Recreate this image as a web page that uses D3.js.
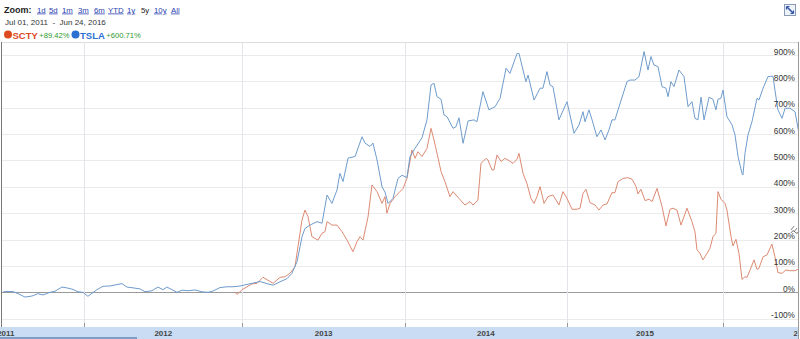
<!DOCTYPE html>
<html><head><meta charset="utf-8">
<script src="https://cdn.jsdelivr.net/npm/d3@7"></script>
<style>
html,body{margin:0;padding:0;background:#fff;}
svg{display:block;font-family:"Liberation Sans",Arial,sans-serif;}
</style></head>
<body>
<svg id="c" width="800" height="339"></svg>
<script>
// ---- data (time as decimal year, value as % change) ----
const zoomLinks = ["1d","5d","1m","3m","6m","YTD","1y","5y","10y","All"];
const selectedZoom = "5y";
const dateRangeText = "Jul 01, 2011  -  Jun 24, 2016";
const seriesNames = ["SCTY","TSLA"];
const seriesChange = ["+89.42%","+600.71%"];
const yTicks = [-100,0,100,200,300,400,500,600,700,800,900];
const years = [2011,2012,2013,2014,2015,2016];

const tslaT = [2011.498,2011.511,2011.560,2011.591,2011.634,2011.677,2011.714,2011.745,2011.788,2011.819,2011.862,2011.899,2011.930,2011.961,2011.992,
2012.023,2012.080,2012.118,2012.163,2012.194,2012.239,2012.270,2012.308,2012.353,2012.384,2012.428,2012.466,2012.498,2012.523,2012.555,2012.587,2012.618,2012.656,2012.701,2012.745,2012.783,2012.815,2012.859,2012.903,2012.941,2012.985,
2013.029,2013.066,2013.109,2013.152,2013.189,2013.232,2013.275,2013.305,2013.336,2013.355,2013.367,2013.385,2013.416,2013.459,2013.490,2013.521,2013.551,2013.582,2013.600,2013.619,2013.650,2013.693,2013.736,2013.754,2013.785,2013.803,2013.828,2013.859,2013.877,2013.896,2013.926,2013.957,2013.982,
2014.012,2014.031,2014.062,2014.105,2014.136,2014.161,2014.179,2014.198,2014.223,2014.241,2014.260,2014.297,2014.315,2014.334,2014.359,2014.390,2014.427,2014.445,2014.482,2014.519,2014.557,2014.588,2014.625,2014.649,2014.693,2014.705,2014.730,2014.748,2014.761,2014.798,2014.835,2014.853,2014.878,2014.897,2014.915,2014.952,
2015.002,2015.047,2015.079,2015.104,2015.117,2015.142,2015.162,2015.193,2015.219,2015.245,2015.270,2015.289,2015.308,2015.328,2015.385,2015.404,2015.436,2015.462,2015.494,2015.519,2015.538,2015.557,2015.583,2015.609,2015.634,2015.647,2015.666,2015.685,2015.717,2015.749,2015.775,2015.800,2015.819,2015.838,2015.858,2015.877,2015.909,2015.934,2015.953,2015.966,2015.985,2015.998,
2016.023,2016.055,2016.074,2016.093,2016.118,2016.124,2016.137,2016.156,2016.181,2016.213,2016.225,2016.251,2016.282,2016.314,2016.326,2016.345,2016.371,2016.390,2016.421,2016.453,2016.478];
const tslaV = [1,3,3,-5,-18,-14,-5,-10,0,4,20,16,11,2,0,
-15,10,23,24,28,33,20,17,13,2,6,20,10,20,10,0,8,6,9,2,0,5,18,21,21,24,
30,35,41,33,27,40,52,72,116,173,211,242,255,268,262,369,337,388,451,420,509,515,590,566,553,566,502,400,380,337,356,432,444,
435,515,546,586,654,786,793,742,732,673,666,622,628,662,565,650,654,647,761,692,704,736,850,830,906,906,843,799,824,729,774,774,837,786,780,654,
723,603,635,685,647,692,654,590,616,578,616,654,654,692,799,805,805,818,913,843,894,862,856,780,774,742,799,780,843,818,704,723,660,654,740,654,740,732,692,732,736,767,
666,635,597,515,451,445,527,597,647,736,729,774,818,820,767,692,660,698,698,685,601];

const sctyT = [2012.953,2012.966,2012.972,2012.998,
2013.029,2013.060,2013.090,2013.127,2013.158,2013.189,2013.232,2013.262,2013.293,2013.324,2013.342,2013.367,2013.385,2013.404,2013.428,2013.465,2013.490,2013.508,2013.521,2013.551,2013.582,2013.613,2013.644,2013.680,2013.705,2013.723,2013.742,2013.773,2013.797,2013.828,2013.859,2013.877,2013.889,2013.908,2013.939,2013.963,2013.988,
2014.012,2014.043,2014.062,2014.080,2014.105,2014.136,2014.161,2014.179,2014.198,2014.223,2014.247,2014.278,2014.297,2014.334,2014.371,2014.402,2014.421,2014.451,2014.470,2014.501,2014.513,2014.538,2014.550,2014.569,2014.594,2014.618,2014.637,2014.668,2014.693,2014.705,2014.730,2014.754,2014.779,2014.798,2014.816,2014.835,2014.860,2014.884,2014.915,2014.934,2014.952,2014.977,
2015.002,2015.034,2015.066,2015.085,2015.104,2015.123,2015.149,2015.181,2015.206,2015.232,2015.257,2015.289,2015.308,2015.328,2015.360,2015.391,2015.417,2015.443,2015.455,2015.474,2015.500,2015.526,2015.545,2015.577,2015.609,2015.634,2015.660,2015.679,2015.704,2015.730,2015.768,2015.800,2015.819,2015.832,2015.851,2015.870,2015.896,2015.915,2015.934,2015.953,2015.966,2015.985,
2016.011,2016.023,2016.049,2016.061,2016.080,2016.099,2016.118,2016.137,2016.150,2016.169,2016.194,2016.213,2016.225,2016.251,2016.276,2016.307,2016.326,2016.345,2016.371,2016.396,2016.421,2016.453,2016.478];
const sctyV = [0,-8,-6,10,
21,32,34,57,46,34,57,59,72,97,173,274,312,287,211,198,224,230,268,255,255,230,198,154,192,211,198,287,407,382,337,363,300,337,363,378,394,
432,540,508,533,515,546,622,578,527,458,420,363,382,356,331,344,331,350,489,508,502,464,464,521,496,508,502,489,505,527,451,413,356,337,363,401,337,363,369,350,331,382,
356,315,315,319,375,391,340,331,312,331,335,378,378,420,432,435,429,401,373,391,348,353,344,394,325,252,315,319,312,255,319,268,230,161,148,123,148,167,211,224,382,353,
337,312,211,176,201,148,49,59,57,85,123,87,91,135,142,183,135,75,72,85,82,82,89];

// ---- helpers ----
function yd(t){ const y=Math.floor(t); const s=new Date(y,0,1), e=new Date(y+1,0,1); return new Date(+s+(t-y)*(e-s)); }
const W=800, H=339;
const plotTop=42, plotLeft=1.5, plotRight=798.5, axisBandTop=327;

// x: trading-day style axis (year spans are not all equal width)
const x = d3.scaleTime()
  .domain([yd(2011.498), new Date(2012,0,1), new Date(2013,0,1), new Date(2014,0,1), new Date(2015,0,1), new Date(2016,0,1), yd(2016.478)])
  .range([3, 84.3, 242.3, 405, 566.7, 723.3, 799]);
const y = d3.scaleLinear().domain([-100,900]).range([318.7,55]);

const svg = d3.select("#c");
const defs = svg.append("defs");
defs.append("clipPath").attr("id","plotclip").append("rect")
  .attr("x",plotLeft).attr("y",plotTop).attr("width",plotRight-plotLeft).attr("height",axisBandTop-plotTop);
defs.append("clipPath").attr("id","bandclip").append("rect")
  .attr("x",0).attr("y",axisBandTop).attr("width",797.5).attr("height",H-axisBandTop);

// ---- header ----
const hdr = svg.append("g");
hdr.append("text").attr("x",4).attr("y",12.5).attr("font-size",9).attr("font-weight","bold").attr("fill","#222").text("Zoom:");
const linkX = [37,49,62,78,94,108,127,141,154,171];
zoomLinks.forEach((z,i)=>{
  const sel = z===selectedZoom;
  const t = hdr.append("text").attr("x",linkX[i]).attr("y",12.5).attr("font-size",7.8)
    .attr("fill", sel? "#222":"#2a3fb0").text(z);
  if(!sel) t.attr("text-decoration","underline");
});
hdr.append("text").attr("x",5).attr("y",24.5).attr("font-size",8).attr("fill","#333").attr("xml:space","preserve").text(dateRangeText);

const legCol = ["#dd4a1f","#2a6fd1"];
const dotX = [8,75.5];
seriesNames.forEach((n,i)=>{
  hdr.append("circle").attr("cx",dotX[i]).attr("cy",34.5).attr("r",4).attr("fill",legCol[i]);
  const t = hdr.append("text").attr("x",dotX[i]+4.5).attr("y",38.5).attr("font-size",9.5).attr("font-weight","bold").attr("fill",legCol[i]).text(n);
  const w = t.node().getComputedTextLength();
  hdr.append("text").attr("x",dotX[i]+4.5+w+1.5).attr("y",38).attr("font-size",7.6).attr("fill","#2f9a2f").text(seriesChange[i]);
});

// top-right expand icon
const ic = svg.append("g").attr("transform","translate(784,4)");
ic.append("rect").attr("x",0.5).attr("y",0.5).attr("width",11).attr("height",11).attr("fill","#eef2fa").attr("stroke","#8a9bb8");
ic.append("path").attr("d","M3,3 L9,9").attr("stroke","#3355aa").attr("stroke-width",1.6);
ic.append("path").attr("d","M2.5,2.5 h3 M2.5,2.5 v3 M9.5,9.5 h-3 M9.5,9.5 v-3").attr("stroke","#3355aa").attr("stroke-width",1.2);

// ---- grid ----
const grid = svg.append("g");
grid.append("line").attr("x1",plotLeft).attr("x2",plotRight).attr("y1",plotTop+0.5).attr("y2",plotTop+0.5).attr("stroke","#dcdcdc");
yTicks.forEach(v=>{
  grid.append("line").attr("x1",plotLeft).attr("x2",plotRight)
    .attr("y1",Math.round(y(v))+0.5).attr("y2",Math.round(y(v))+0.5)
    .attr("stroke", v===0? "#9a9a9a":"#ebebeb").attr("stroke-width",1);
});
years.slice(1).forEach(yr=>{
  const xx = Math.round(x(new Date(yr,0,1)))+0.5;
  grid.append("line").attr("x1",xx).attr("x2",xx).attr("y1",plotTop).attr("y2",axisBandTop-4).attr("stroke","#e4e4ea");
  grid.append("line").attr("x1",xx).attr("x2",xx).attr("y1",axisBandTop-4).attr("y2",axisBandTop).attr("stroke","#999");
});

// ---- lines ----
const line = d3.line().x(d=>x(yd(d[0]))).y(d=>y(d[1]));
const lg = svg.append("g").attr("clip-path","url(#plotclip)");
lg.append("path").datum(sctyT.map((t,i)=>[t,sctyV[i]])).attr("d",line)
  .attr("fill","none").attr("stroke","#dc8a72").attr("stroke-width",1);
lg.append("path").datum(tslaT.map((t,i)=>[t,tslaV[i]])).attr("d",line)
  .attr("fill","none").attr("stroke","#6e9bcc").attr("stroke-width",1);

// ---- y labels ----
yTicks.forEach(v=>{
  svg.append("text").attr("x",795).attr("y",y(v)-0.5).attr("text-anchor","end")
    .attr("font-size",8.3).attr("fill","#333").text(v+"%");
});

// small drag handle glyph at right
svg.append("path").attr("d","M791,233 q2,-4 4,-1 q2,3 4,-1").attr("fill","none").attr("stroke","#555").attr("stroke-width",0.8);
svg.append("path").attr("d","M791,230 l3,-4 M794,232 l3,-4").attr("fill","none").attr("stroke","#555").attr("stroke-width",0.7);

// ---- borders ----
svg.append("line").attr("x1",1.5).attr("x2",1.5).attr("y1",plotTop).attr("y2",axisBandTop).attr("stroke","#777");
svg.append("line").attr("x1",798.5).attr("x2",798.5).attr("y1",plotTop).attr("y2",H).attr("stroke","#999");

// ---- bottom axis band ----
const band = svg.append("g");
band.append("rect").attr("x",0).attr("y",axisBandTop).attr("width",798).attr("height",H-axisBandTop).attr("fill","#c9dcf3");
band.append("rect").attr("x",0).attr("y",H-2).attr("width",137).attr("height",2).attr("fill","#7f9cc4");
const bl = band.append("g").attr("clip-path","url(#bandclip)");
years.forEach(yr=>{
  const mid = (x(new Date(yr,0,1))+x(new Date(yr+1,0,1)))/2;
  bl.append("text").attr("x",mid + (yr===2011?2.5:0)).attr("y",335.5).attr("text-anchor","middle")
    .attr("font-size",8).attr("font-weight","bold").attr("fill","#444").text(yr);
});
</script>
</body></html>
